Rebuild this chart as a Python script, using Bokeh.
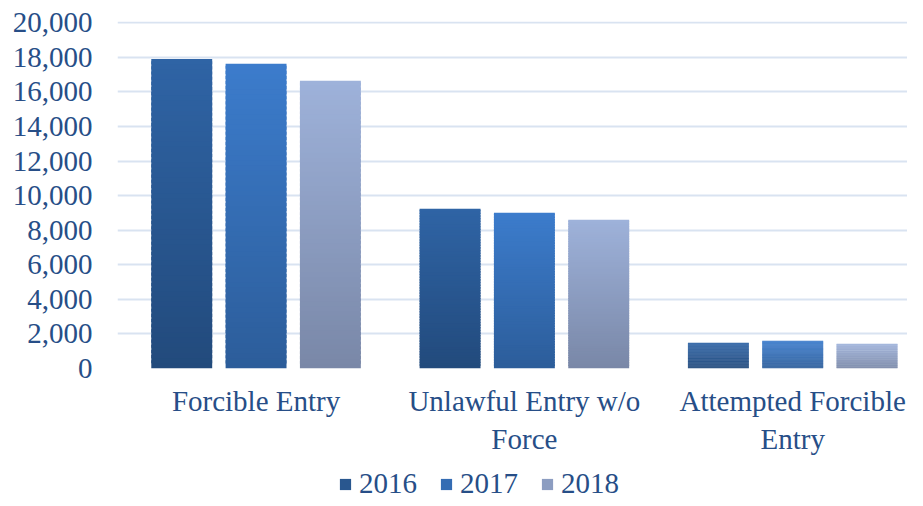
from bokeh.plotting import figure
from bokeh.layouts import column
from bokeh.models import (ColumnDataSource, Range1d, FixedTicker, NumeralTickFormatter,
                          Legend, LegendItem)
from bokeh.embed import file_html
from bokeh.resources import INLINE

categories = ["Forcible Entry", "Unlawful Entry w/o Force", "Attempted Forcible Entry"]
category_labels = ["Forcible Entry", "Unlawful Entry w/o\nForce", "Attempted Forcible\nEntry"]
years = ["2016", "2017", "2018"]
values_2016 = [17900, 9240, 1490]
values_2017 = [17630, 9010, 1600]
values_2018 = [16650, 8600, 1430]
y_ticks = [0, 2000, 4000, 6000, 8000, 10000, 12000, 14000, 16000, 18000, 20000]

series = [values_2016, values_2017, values_2018]
top_colors = [(0x2F, 0x64, 0xA5), (0x3C, 0x7C, 0xCC), (0x9E, 0xB2, 0xDA)]
bottom_colors = [(0x22, 0x4A, 0x7C), (0x2C, 0x5D, 0x9A), (0x79, 0x87, 0xA7)]
legend_colors = ["#29578F", "#346CB3", "#8C9DC1"]

FONT = "Liberation Serif"
TXT = "#274E87"

MAIN_H = 460
LEG_H = 40
TOP = 21
FRAME_H = 347

x0 = -0.0164
p = figure(width=907, height=MAIN_H, output_backend="svg", toolbar_location=None,
           x_range=Range1d(x0, x0 + 792 / 269), y_range=Range1d(0, 20075),
           min_border_top=TOP, min_border_left=117, min_border_right=0,
           min_border_bottom=MAIN_H - TOP - FRAME_H)
p.outline_line_color = None
p.background_fill_color = "white"
p.border_fill_color = "white"

N = 60
bar_w = 0.227
offset = 0.277
for j, (vals, tc, bc) in enumerate(zip(series, top_colors, bottom_colors)):
    left, right, bottom, top, color = [], [], [], [], []
    for i, v in enumerate(vals):
        cx = i + 0.5 + (j - 1) * offset
        for k in range(N):
            f0, f1 = k / N, (k + 1) / N
            left.append(cx - bar_w / 2)
            right.append(cx + bar_w / 2)
            bottom.append(v * f0)
            top.append(min(v, v * f1 + (v / N) * 0.6))
            t = (k + 0.5) / N
            c = tuple(int(round(bc[m] + (tc[m] - bc[m]) * t)) for m in range(3))
            color.append("#%02x%02x%02x" % c)
    src = ColumnDataSource(dict(left=left, right=right, bottom=bottom, top=top, color=color))
    p.quad(left="left", right="right", bottom="bottom", top="top", source=src,
           fill_color="color", line_color=None)

p.xgrid.grid_line_color = None
p.ygrid.grid_line_color = "#D9E3F1"
p.ygrid.grid_line_width = 2

p.yaxis.ticker = FixedTicker(ticks=y_ticks)
p.yaxis.formatter = NumeralTickFormatter(format="0,0")
p.yaxis.axis_line_color = None
p.yaxis.major_tick_line_color = None
p.yaxis.minor_tick_line_color = None
p.yaxis.major_label_standoff = 19
p.yaxis.major_label_text_font = FONT
p.yaxis.major_label_text_font_size = "29px"
p.yaxis.major_label_text_color = TXT

p.xaxis.ticker = FixedTicker(ticks=[0.5, 1.5, 2.5])
p.xaxis.major_label_overrides = {0.5: category_labels[0], 1.5: category_labels[1],
                                 2.5: category_labels[2]}
p.xaxis.axis_line_color = None
p.xaxis.major_tick_line_color = None
p.xaxis.minor_tick_line_color = None
p.xaxis.major_label_standoff = 10
p.xaxis.major_label_text_font = FONT
p.xaxis.major_label_text_font_size = "29px"
p.xaxis.major_label_text_color = TXT

# legend strip
lg = figure(width=907, height=LEG_H, output_backend="svg", toolbar_location=None,
            x_range=Range1d(0, 1), y_range=Range1d(0, 1),
            min_border=0, min_border_left=0, min_border_right=0,
            min_border_top=0, min_border_bottom=0)
lg.axis.visible = False
lg.grid.visible = False
lg.outline_line_color = None
lg.background_fill_color = "white"
lg.border_fill_color = "white"
items = []
for yr, col in zip(years, legend_colors):
    r = lg.quad(left=[-3], right=[-2], top=[-2], bottom=[-3], fill_color=col, line_color=None)
    items.append(LegendItem(label=yr, renderers=[r]))
legend = Legend(items=items, orientation="horizontal", location=(221, 0),
                glyph_width=14, glyph_height=14, label_standoff=7, spacing=22,
                label_text_font=FONT, label_text_font_size="29px",
                label_text_color=TXT, border_line_color=None,
                background_fill_alpha=0, padding=0, margin=0)
lg.add_layout(legend, "center")

layout = column(p, lg, spacing=0)
open("out.html", "w").write(file_html(layout, INLINE))
